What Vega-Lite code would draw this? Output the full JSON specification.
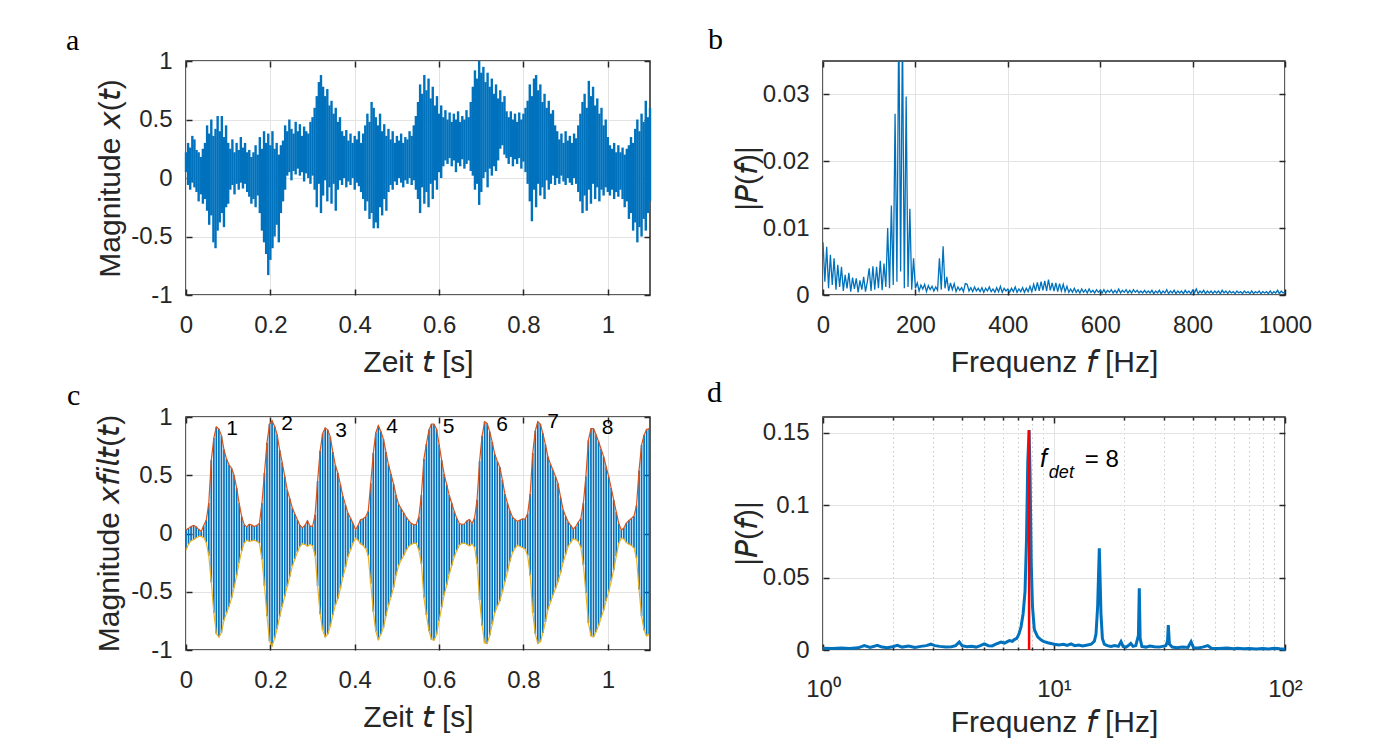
{
"$schema": "https://vega.github.io/schema/vega-lite/v6.json",
"padding": {"left": 65, "top": 24, "right": 5, "bottom": 5},
"background": "white",
"bounds": "flush",
"columns": 2,
"spacing": {"row": 122, "column": 173},
"datasets": {
"sa": [
{"t":0,"h":0.22,"l":0.05},{"t":0.005,"h":0.30,"l":-0.06},{"t":0.01,"h":0.26,"l":-0.10},{"t":0.015,"h":0.36,"l":-0.04},{"t":0.02,"h":0.33,"l":-0.08},{"t":0.025,"h":0.24,"l":-0.12},{"t":0.03,"h":0.22,"l":-0.20},{"t":0.035,"h":0.18,"l":-0.14},{"t":0.04,"h":0.25,"l":-0.22},{"t":0.045,"h":0.30,"l":-0.18},
{"t":0.05,"h":0.45,"l":-0.28},{"t":0.055,"h":0.38,"l":-0.40},{"t":0.06,"h":0.50,"l":-0.32},{"t":0.065,"h":0.36,"l":-0.55},{"t":0.07,"h":0.42,"l":-0.60},{"t":0.075,"h":0.53,"l":-0.45},{"t":0.08,"h":0.40,"l":-0.38},{"t":0.085,"h":0.53,"l":-0.30},{"t":0.09,"h":0.35,"l":-0.42},{"t":0.095,"h":0.45,"l":-0.25},
{"t":0.1,"h":0.30,"l":-0.22},{"t":0.105,"h":0.25,"l":-0.10},{"t":0.11,"h":0.33,"l":-0.06},{"t":0.115,"h":0.22,"l":-0.14},{"t":0.12,"h":0.30,"l":-0.05},{"t":0.125,"h":0.24,"l":-0.10},{"t":0.13,"h":0.35,"l":-0.04},{"t":0.135,"h":0.26,"l":-0.09},{"t":0.14,"h":0.30,"l":-0.05},{"t":0.145,"h":0.22,"l":-0.12},
{"t":0.15,"h":0.24,"l":-0.16},{"t":0.155,"h":0.18,"l":-0.22},{"t":0.16,"h":0.22,"l":-0.18},{"t":0.165,"h":0.28,"l":-0.25},{"t":0.17,"h":0.20,"l":-0.15},{"t":0.175,"h":0.35,"l":-0.30},{"t":0.18,"h":0.25,"l":-0.45},{"t":0.185,"h":0.40,"l":-0.55},{"t":0.19,"h":0.30,"l":-0.65},{"t":0.195,"h":0.38,"l":-0.83},
{"t":0.2,"h":0.28,"l":-0.70},{"t":0.205,"h":0.40,"l":-0.60},{"t":0.21,"h":0.25,"l":-0.50},{"t":0.215,"h":0.30,"l":-0.40},{"t":0.22,"h":0.20,"l":-0.55},{"t":0.225,"h":0.28,"l":-0.30},{"t":0.23,"h":0.32,"l":-0.20},{"t":0.235,"h":0.45,"l":-0.10},{"t":0.24,"h":0.40,"l":0.02},{"t":0.245,"h":0.50,"l":0.05},
{"t":0.25,"h":0.42,"l":-0.02},{"t":0.255,"h":0.38,"l":0.06},{"t":0.26,"h":0.48,"l":0.03},{"t":0.265,"h":0.40,"l":0.08},{"t":0.27,"h":0.46,"l":0.02},{"t":0.275,"h":0.36,"l":0.05},{"t":0.28,"h":0.44,"l":-0.03},{"t":0.285,"h":0.40,"l":0.04},{"t":0.29,"h":0.38,"l":0.00},{"t":0.295,"h":0.48,"l":-0.05},
{"t":0.3,"h":0.52,"l":0.02},{"t":0.305,"h":0.60,"l":-0.10},{"t":0.31,"h":0.70,"l":-0.25},{"t":0.315,"h":0.82,"l":-0.05},{"t":0.32,"h":0.88,"l":-0.30},{"t":0.325,"h":0.78,"l":-0.15},{"t":0.33,"h":0.70,"l":-0.02},{"t":0.335,"h":0.76,"l":-0.20},{"t":0.34,"h":0.62,"l":-0.08},{"t":0.345,"h":0.66,"l":-0.22},
{"t":0.35,"h":0.55,"l":-0.05},{"t":0.355,"h":0.60,"l":-0.28},{"t":0.36,"h":0.48,"l":-0.10},{"t":0.365,"h":0.52,"l":-0.02},{"t":0.37,"h":0.40,"l":-0.06},{"t":0.375,"h":0.36,"l":0.00},{"t":0.38,"h":0.41,"l":-0.08},{"t":0.385,"h":0.32,"l":-0.03},{"t":0.39,"h":0.38,"l":-0.06},{"t":0.395,"h":0.30,"l":0.00},
{"t":0.4,"h":0.36,"l":-0.10},{"t":0.405,"h":0.33,"l":-0.04},{"t":0.41,"h":0.40,"l":-0.07},{"t":0.415,"h":0.30,"l":-0.12},{"t":0.42,"h":0.38,"l":-0.18},{"t":0.425,"h":0.45,"l":-0.28},{"t":0.43,"h":0.55,"l":-0.20},{"t":0.435,"h":0.48,"l":-0.35},{"t":0.44,"h":0.65,"l":-0.30},{"t":0.445,"h":0.60,"l":-0.43},
{"t":0.45,"h":0.52,"l":-0.38},{"t":0.455,"h":0.45,"l":-0.43},{"t":0.46,"h":0.55,"l":-0.25},{"t":0.465,"h":0.40,"l":-0.32},{"t":0.47,"h":0.46,"l":-0.18},{"t":0.475,"h":0.36,"l":-0.28},{"t":0.48,"h":0.42,"l":-0.12},{"t":0.485,"h":0.33,"l":-0.06},{"t":0.49,"h":0.40,"l":-0.10},{"t":0.495,"h":0.30,"l":-0.03},
{"t":0.5,"h":0.36,"l":-0.06},{"t":0.505,"h":0.32,"l":0.00},{"t":0.51,"h":0.38,"l":-0.04},{"t":0.515,"h":0.30,"l":-0.08},{"t":0.52,"h":0.35,"l":-0.02},{"t":0.525,"h":0.33,"l":-0.05},{"t":0.53,"h":0.40,"l":0.00},{"t":0.535,"h":0.36,"l":-0.06},{"t":0.54,"h":0.45,"l":-0.02},{"t":0.545,"h":0.53,"l":-0.10},
{"t":0.55,"h":0.65,"l":-0.18},{"t":0.555,"h":0.80,"l":-0.30},{"t":0.56,"h":0.72,"l":-0.08},{"t":0.565,"h":0.88,"l":-0.22},{"t":0.57,"h":0.75,"l":-0.12},{"t":0.575,"h":0.85,"l":-0.25},{"t":0.58,"h":0.68,"l":-0.05},{"t":0.585,"h":0.78,"l":-0.18},{"t":0.59,"h":0.62,"l":-0.02},{"t":0.595,"h":0.70,"l":-0.10},
{"t":0.6,"h":0.55,"l":0.05},{"t":0.605,"h":0.62,"l":0.00},{"t":0.61,"h":0.52,"l":0.10},{"t":0.615,"h":0.58,"l":0.15},{"t":0.62,"h":0.50,"l":0.12},{"t":0.625,"h":0.56,"l":0.17},{"t":0.63,"h":0.48,"l":0.10},{"t":0.635,"h":0.55,"l":0.15},{"t":0.64,"h":0.50,"l":0.05},{"t":0.645,"h":0.57,"l":0.13},
{"t":0.65,"h":0.48,"l":0.10},{"t":0.655,"h":0.53,"l":0.16},{"t":0.66,"h":0.50,"l":0.08},{"t":0.665,"h":0.58,"l":0.12},{"t":0.67,"h":0.52,"l":0.15},{"t":0.675,"h":0.65,"l":0.06},{"t":0.68,"h":0.78,"l":0.02},{"t":0.685,"h":0.92,"l":-0.10},{"t":0.69,"h":0.85,"l":-0.05},{"t":0.695,"h":1.00,"l":-0.23},
{"t":0.7,"h":0.90,"l":-0.12},{"t":0.705,"h":0.95,"l":0.00},{"t":0.71,"h":0.82,"l":0.05},{"t":0.715,"h":0.90,"l":-0.08},{"t":0.72,"h":0.78,"l":0.08},{"t":0.725,"h":0.85,"l":0.02},{"t":0.73,"h":0.72,"l":0.10},{"t":0.735,"h":0.80,"l":0.06},{"t":0.74,"h":0.68,"l":0.15},{"t":0.745,"h":0.75,"l":0.25},
{"t":0.75,"h":0.65,"l":0.28},{"t":0.755,"h":0.70,"l":0.20},{"t":0.76,"h":0.57,"l":0.17},{"t":0.765,"h":0.52,"l":0.12},{"t":0.77,"h":0.57,"l":0.18},{"t":0.775,"h":0.50,"l":0.10},{"t":0.78,"h":0.55,"l":0.16},{"t":0.785,"h":0.48,"l":0.12},{"t":0.79,"h":0.56,"l":0.17},{"t":0.795,"h":0.50,"l":0.08},
{"t":0.8,"h":0.55,"l":0.14},{"t":0.805,"h":0.60,"l":0.05},{"t":0.81,"h":0.66,"l":-0.05},{"t":0.815,"h":0.80,"l":-0.20},{"t":0.82,"h":0.70,"l":-0.37},{"t":0.825,"h":0.85,"l":-0.10},{"t":0.83,"h":0.88,"l":-0.25},{"t":0.835,"h":0.75,"l":-0.05},{"t":0.84,"h":0.80,"l":-0.15},{"t":0.845,"h":0.65,"l":-0.08},
{"t":0.85,"h":0.72,"l":-0.18},{"t":0.855,"h":0.60,"l":-0.02},{"t":0.86,"h":0.66,"l":-0.10},{"t":0.865,"h":0.55,"l":-0.05},{"t":0.87,"h":0.58,"l":0.02},{"t":0.875,"h":0.45,"l":-0.06},{"t":0.88,"h":0.40,"l":0.00},{"t":0.885,"h":0.33,"l":-0.05},{"t":0.89,"h":0.38,"l":0.02},{"t":0.895,"h":0.30,"l":-0.03},
{"t":0.9,"h":0.40,"l":-0.06},{"t":0.905,"h":0.32,"l":0.00},{"t":0.91,"h":0.36,"l":-0.04},{"t":0.915,"h":0.30,"l":-0.06},{"t":0.92,"h":0.38,"l":0.00},{"t":0.925,"h":0.34,"l":-0.05},{"t":0.93,"h":0.45,"l":-0.12},{"t":0.935,"h":0.55,"l":-0.20},{"t":0.94,"h":0.65,"l":-0.30},{"t":0.945,"h":0.72,"l":-0.15},
{"t":0.95,"h":0.60,"l":-0.28},{"t":0.955,"h":0.83,"l":-0.10},{"t":0.96,"h":0.70,"l":-0.22},{"t":0.965,"h":0.78,"l":-0.05},{"t":0.97,"h":0.62,"l":-0.18},{"t":0.975,"h":0.68,"l":-0.08},{"t":0.98,"h":0.55,"l":-0.20},{"t":0.985,"h":0.60,"l":-0.10},{"t":0.99,"h":0.45,"l":-0.15},{"t":0.995,"h":0.50,"l":-0.08},
{"t":1,"h":0.35,"l":-0.12},{"t":1.005,"h":0.28,"l":-0.15},{"t":1.01,"h":0.25,"l":-0.10},{"t":1.015,"h":0.30,"l":-0.18},{"t":1.02,"h":0.22,"l":-0.12},{"t":1.025,"h":0.28,"l":-0.16},{"t":1.03,"h":0.22,"l":-0.10},{"t":1.035,"h":0.26,"l":-0.18},{"t":1.04,"h":0.20,"l":-0.25},{"t":1.045,"h":0.25,"l":-0.20},
{"t":1.05,"h":0.28,"l":-0.35},{"t":1.055,"h":0.35,"l":-0.30},{"t":1.06,"h":0.30,"l":-0.45},{"t":1.065,"h":0.42,"l":-0.38},{"t":1.07,"h":0.50,"l":-0.55},{"t":1.075,"h":0.40,"l":-0.42},{"t":1.08,"h":0.55,"l":-0.50},{"t":1.085,"h":0.48,"l":-0.35},{"t":1.09,"h":0.66,"l":-0.45},{"t":1.095,"h":0.52,"l":-0.30},
{"t":1.1,"h":0.60,"l":-0.20}
],
"sb": [
{"f":0,"p":0.0079},{"f":4,"p":0.0020},{"f":8,"p":0.0072},{"f":12,"p":0.0010},{"f":16,"p":0.0060},{"f":20,"p":0.0015},{"f":24,"p":0.0055},{"f":28,"p":0.0008},{"f":32,"p":0.0045},{"f":36,"p":0.0012},
{"f":40,"p":0.0042},{"f":44,"p":0.0006},{"f":48,"p":0.0030},{"f":52,"p":0.0010},{"f":56,"p":0.0033},{"f":60,"p":0.0005},{"f":64,"p":0.0026},{"f":68,"p":0.0009},{"f":72,"p":0.0025},{"f":76,"p":0.0004},
{"f":80,"p":0.0022},{"f":84,"p":0.0008},{"f":88,"p":0.0027},{"f":92,"p":0.0005},{"f":96,"p":0.0020},{"f":100,"p":0.0040},{"f":104,"p":0.0006},{"f":108,"p":0.0043},{"f":112,"p":0.0008},{"f":116,"p":0.0042},
{"f":120,"p":0.0010},{"f":124,"p":0.0051},{"f":128,"p":0.0007},{"f":132,"p":0.0047},{"f":136,"p":0.0012},{"f":140,"p":0.0100},{"f":144,"p":0.0010},{"f":148,"p":0.0134},{"f":152,"p":0.0015},{"f":156,"p":0.0271},
{"f":160,"p":0.0020},{"f":164,"p":0.0420},{"f":168,"p":0.0035},{"f":172,"p":0.0400},{"f":176,"p":0.0010},{"f":180,"p":0.0297},{"f":184,"p":0.0012},{"f":188,"p":0.0129},{"f":192,"p":0.0008},{"f":196,"p":0.0055},
{"f":200,"p":0.0010},{"f":204,"p":0.0018},{"f":208,"p":0.0006},{"f":212,"p":0.0015},{"f":216,"p":0.0009},{"f":220,"p":0.0016},{"f":224,"p":0.0005},{"f":228,"p":0.0014},{"f":232,"p":0.0008},{"f":236,"p":0.0013},
{"f":240,"p":0.0006},{"f":244,"p":0.0012},{"f":248,"p":0.0007},{"f":252,"p":0.0055},{"f":256,"p":0.0008},{"f":260,"p":0.0073},{"f":264,"p":0.0010},{"f":268,"p":0.0027},{"f":272,"p":0.0006},{"f":276,"p":0.0018},
{"f":280,"p":0.0008},{"f":284,"p":0.0017},{"f":288,"p":0.0005},{"f":292,"p":0.0012},{"f":296,"p":0.0007},{"f":300,"p":0.0011},{"f":304,"p":0.0005},{"f":308,"p":0.0017},{"f":312,"p":0.0016},{"f":316,"p":0.0006},
{"f":320,"p":0.0011},{"f":324,"p":0.0005},{"f":328,"p":0.0012},{"f":332,"p":0.0006},{"f":336,"p":0.0010},{"f":340,"p":0.0005},{"f":344,"p":0.0011},{"f":348,"p":0.0004},{"f":352,"p":0.0010},{"f":356,"p":0.0006},
{"f":360,"p":0.0012},{"f":364,"p":0.0005},{"f":368,"p":0.0009},{"f":372,"p":0.0004},{"f":376,"p":0.0011},{"f":380,"p":0.0005},{"f":384,"p":0.0013},{"f":388,"p":0.0004},{"f":392,"p":0.0010},{"f":396,"p":0.0006},
{"f":400,"p":0.0009},{"f":404,"p":0.0004},{"f":408,"p":0.0010},{"f":412,"p":0.0005},{"f":416,"p":0.0012},{"f":420,"p":0.0004},{"f":424,"p":0.0009},{"f":428,"p":0.0005},{"f":432,"p":0.0011},{"f":436,"p":0.0004},
{"f":440,"p":0.0010},{"f":444,"p":0.0005},{"f":448,"p":0.0013},{"f":452,"p":0.0005},{"f":456,"p":0.0016},{"f":460,"p":0.0006},{"f":464,"p":0.0019},{"f":468,"p":0.0006},{"f":472,"p":0.0020},{"f":476,"p":0.0007},
{"f":480,"p":0.0021},{"f":484,"p":0.0006},{"f":488,"p":0.0023},{"f":492,"p":0.0007},{"f":496,"p":0.0018},{"f":500,"p":0.0006},{"f":504,"p":0.0018},{"f":508,"p":0.0005},{"f":512,"p":0.0017},{"f":516,"p":0.0006},
{"f":520,"p":0.0016},{"f":524,"p":0.0005},{"f":528,"p":0.0013},{"f":532,"p":0.0004},{"f":536,"p":0.0009},{"f":540,"p":0.0004},{"f":544,"p":0.0010},{"f":548,"p":0.0004},{"f":552,"p":0.0008},{"f":556,"p":0.0003},
{"f":560,"p":0.0009},{"f":564,"p":0.0004},{"f":568,"p":0.0008},{"f":572,"p":0.0003},{"f":576,"p":0.0009},{"f":580,"p":0.0004},{"f":584,"p":0.0007},{"f":588,"p":0.0003},{"f":592,"p":0.0008},{"f":596,"p":0.0004},
{"f":600,"p":0.0007},{"f":604,"p":0.0003},{"f":608,"p":0.0008},{"f":612,"p":0.0003},{"f":616,"p":0.0007},{"f":620,"p":0.0004},{"f":624,"p":0.0008},{"f":628,"p":0.0003},{"f":632,"p":0.0007},{"f":636,"p":0.0003},
{"f":640,"p":0.0009},{"f":644,"p":0.0003},{"f":648,"p":0.0007},{"f":652,"p":0.0004},{"f":656,"p":0.0008},{"f":660,"p":0.0003},{"f":664,"p":0.0007},{"f":668,"p":0.0003},{"f":672,"p":0.0008},{"f":676,"p":0.0004},
{"f":680,"p":0.0007},{"f":684,"p":0.0003},{"f":688,"p":0.0006},{"f":692,"p":0.0003},{"f":696,"p":0.0007},{"f":700,"p":0.0003},{"f":704,"p":0.0006},{"f":708,"p":0.0003},{"f":712,"p":0.0007},{"f":716,"p":0.0002},
{"f":720,"p":0.0006},{"f":724,"p":0.0003},{"f":728,"p":0.0007},{"f":732,"p":0.0002},{"f":736,"p":0.0006},{"f":740,"p":0.0003},{"f":744,"p":0.0008},{"f":748,"p":0.0002},{"f":752,"p":0.0006},{"f":756,"p":0.0003},
{"f":760,"p":0.0007},{"f":764,"p":0.0002},{"f":768,"p":0.0006},{"f":772,"p":0.0003},{"f":776,"p":0.0006},{"f":780,"p":0.0002},{"f":784,"p":0.0007},{"f":788,"p":0.0003},{"f":792,"p":0.0006},{"f":796,"p":0.0002},
{"f":800,"p":0.0007},{"f":804,"p":0.0003},{"f":808,"p":0.0009},{"f":812,"p":0.0002},{"f":816,"p":0.0006},{"f":820,"p":0.0003},{"f":824,"p":0.0007},{"f":828,"p":0.0002},{"f":832,"p":0.0006},{"f":836,"p":0.0003},
{"f":840,"p":0.0006},{"f":844,"p":0.0002},{"f":848,"p":0.0006},{"f":852,"p":0.0003},{"f":856,"p":0.0006},{"f":860,"p":0.0002},{"f":864,"p":0.0007},{"f":868,"p":0.0003},{"f":872,"p":0.0006},{"f":876,"p":0.0002},
{"f":880,"p":0.0006},{"f":884,"p":0.0003},{"f":888,"p":0.0005},{"f":892,"p":0.0002},{"f":896,"p":0.0006},{"f":900,"p":0.0003},{"f":904,"p":0.0005},{"f":908,"p":0.0002},{"f":912,"p":0.0006},{"f":916,"p":0.0003},
{"f":920,"p":0.0005},{"f":924,"p":0.0002},{"f":928,"p":0.0006},{"f":932,"p":0.0002},{"f":936,"p":0.0005},{"f":940,"p":0.0003},{"f":944,"p":0.0006},{"f":948,"p":0.0002},{"f":952,"p":0.0005},{"f":956,"p":0.0003},
{"f":960,"p":0.0005},{"f":964,"p":0.0002},{"f":968,"p":0.0006},{"f":972,"p":0.0002},{"f":976,"p":0.0005},{"f":980,"p":0.0003},{"f":984,"p":0.0007},{"f":988,"p":0.0002},{"f":992,"p":0.0006},{"f":996,"p":0.0003},
{"f":1000,"p":0.0004}
],
"sc": [
{"t":0,"u":0.03,"l":-0.142},{"t":0.006,"u":0.044,"l":-0.092},{"t":0.012,"u":0.06,"l":-0.064},{"t":0.018,"u":0.07,"l":-0.053},{"t":0.024,"u":0.058,"l":-0.038},{"t":0.03,"u":0.036,"l":-0.025},{"t":0.036,"u":0.017,"l":-0.025},{"t":0.042,"u":0.068,"l":-0.037},{"t":0.048,"u":0.114,"l":-0.076},{"t":0.054,"u":0.26,"l":-0.19},
{"t":0.06,"u":0.63,"l":-0.42},{"t":0.066,"u":0.82,"l":-0.68},{"t":0.072,"u":0.915,"l":-0.86},{"t":0.078,"u":0.897,"l":-0.89},{"t":0.084,"u":0.84,"l":-0.852},{"t":0.09,"u":0.72,"l":-0.745},{"t":0.096,"u":0.64,"l":-0.683},{"t":0.102,"u":0.59,"l":-0.628},{"t":0.108,"u":0.56,"l":-0.555},{"t":0.114,"u":0.5,"l":-0.466},
{"t":0.12,"u":0.39,"l":-0.36},{"t":0.126,"u":0.26,"l":-0.25},{"t":0.132,"u":0.145,"l":-0.15},{"t":0.138,"u":0.075,"l":-0.083},{"t":0.144,"u":0.056,"l":-0.058},{"t":0.15,"u":0.08,"l":-0.068},{"t":0.156,"u":0.072,"l":-0.064},{"t":0.162,"u":0.06,"l":-0.057},{"t":0.168,"u":0.071,"l":-0.068},{"t":0.174,"u":0.085,"l":-0.083},
{"t":0.18,"u":0.26,"l":-0.22},{"t":0.186,"u":0.52,"l":-0.45},{"t":0.192,"u":0.78,"l":-0.71},{"t":0.198,"u":0.94,"l":-0.925},{"t":0.204,"u":0.968,"l":-0.968},{"t":0.21,"u":0.92,"l":-0.9},{"t":0.216,"u":0.85,"l":-0.82},{"t":0.222,"u":0.717,"l":-0.714},{"t":0.228,"u":0.61,"l":-0.63},{"t":0.234,"u":0.49,"l":-0.54},
{"t":0.24,"u":0.375,"l":-0.455},{"t":0.246,"u":0.3,"l":-0.37},{"t":0.252,"u":0.22,"l":-0.28},{"t":0.258,"u":0.167,"l":-0.22},{"t":0.264,"u":0.118,"l":-0.16},{"t":0.27,"u":0.072,"l":-0.112},{"t":0.276,"u":0.049,"l":-0.088},{"t":0.282,"u":0.072,"l":-0.095},{"t":0.288,"u":0.11,"l":-0.11},{"t":0.294,"u":0.065,"l":-0.095},
{"t":0.3,"u":0.06,"l":-0.105},{"t":0.306,"u":0.16,"l":-0.19},{"t":0.312,"u":0.45,"l":-0.45},{"t":0.318,"u":0.71,"l":-0.69},{"t":0.324,"u":0.858,"l":-0.83},{"t":0.33,"u":0.907,"l":-0.89},{"t":0.336,"u":0.89,"l":-0.864},{"t":0.342,"u":0.83,"l":-0.8},{"t":0.348,"u":0.7,"l":-0.7},{"t":0.354,"u":0.586,"l":-0.615},
{"t":0.36,"u":0.52,"l":-0.56},{"t":0.366,"u":0.42,"l":-0.47},{"t":0.372,"u":0.32,"l":-0.375},{"t":0.378,"u":0.246,"l":-0.29},{"t":0.384,"u":0.175,"l":-0.2},{"t":0.39,"u":0.13,"l":-0.14},{"t":0.396,"u":0.087,"l":-0.084},{"t":0.402,"u":0.032,"l":-0.04},{"t":0.408,"u":0.07,"l":-0.057},{"t":0.414,"u":0.119,"l":-0.09},
{"t":0.42,"u":0.126,"l":-0.104},{"t":0.426,"u":0.143,"l":-0.13},{"t":0.432,"u":0.19,"l":-0.19},{"t":0.438,"u":0.43,"l":-0.43},{"t":0.444,"u":0.69,"l":-0.67},{"t":0.45,"u":0.865,"l":-0.84},{"t":0.456,"u":0.925,"l":-0.91},{"t":0.462,"u":0.875,"l":-0.865},{"t":0.468,"u":0.81,"l":-0.81},{"t":0.474,"u":0.7,"l":-0.71},
{"t":0.48,"u":0.59,"l":-0.615},{"t":0.486,"u":0.51,"l":-0.545},{"t":0.492,"u":0.425,"l":-0.465},{"t":0.498,"u":0.33,"l":-0.36},{"t":0.504,"u":0.25,"l":-0.275},{"t":0.51,"u":0.215,"l":-0.23},{"t":0.516,"u":0.178,"l":-0.19},{"t":0.522,"u":0.14,"l":-0.145},{"t":0.528,"u":0.11,"l":-0.11},{"t":0.534,"u":0.087,"l":-0.095},
{"t":0.54,"u":0.074,"l":-0.084},{"t":0.546,"u":0.079,"l":-0.084},{"t":0.552,"u":0.145,"l":-0.145},{"t":0.558,"u":0.33,"l":-0.26},{"t":0.564,"u":0.64,"l":-0.55},{"t":0.57,"u":0.77,"l":-0.7},{"t":0.576,"u":0.89,"l":-0.837},{"t":0.582,"u":0.94,"l":-0.91},{"t":0.588,"u":0.94,"l":-0.916},{"t":0.594,"u":0.895,"l":-0.866},
{"t":0.6,"u":0.765,"l":-0.75},{"t":0.606,"u":0.63,"l":-0.634},{"t":0.612,"u":0.51,"l":-0.53},{"t":0.618,"u":0.42,"l":-0.44},{"t":0.624,"u":0.33,"l":-0.35},{"t":0.63,"u":0.26,"l":-0.275},{"t":0.636,"u":0.19,"l":-0.2},{"t":0.642,"u":0.13,"l":-0.145},{"t":0.648,"u":0.085,"l":-0.1},{"t":0.654,"u":0.078,"l":-0.084},
{"t":0.66,"u":0.081,"l":-0.084},{"t":0.666,"u":0.11,"l":-0.094},{"t":0.672,"u":0.12,"l":-0.108},{"t":0.678,"u":0.086,"l":-0.09},{"t":0.684,"u":0.13,"l":-0.117},{"t":0.69,"u":0.29,"l":-0.26},{"t":0.696,"u":0.62,"l":-0.57},{"t":0.702,"u":0.84,"l":-0.79},{"t":0.708,"u":0.96,"l":-0.94},{"t":0.714,"u":0.945,"l":-0.945},
{"t":0.72,"u":0.875,"l":-0.875},{"t":0.726,"u":0.785,"l":-0.78},{"t":0.732,"u":0.68,"l":-0.68},{"t":0.738,"u":0.62,"l":-0.625},{"t":0.744,"u":0.57,"l":-0.58},{"t":0.75,"u":0.46,"l":-0.5},{"t":0.756,"u":0.34,"l":-0.415},{"t":0.762,"u":0.26,"l":-0.33},{"t":0.768,"u":0.195,"l":-0.24},{"t":0.774,"u":0.14,"l":-0.163},
{"t":0.78,"u":0.12,"l":-0.127},{"t":0.786,"u":0.104,"l":-0.101},{"t":0.792,"u":0.115,"l":-0.112},{"t":0.798,"u":0.126,"l":-0.123},{"t":0.804,"u":0.124,"l":-0.134},{"t":0.81,"u":0.17,"l":-0.19},{"t":0.816,"u":0.34,"l":-0.36},{"t":0.822,"u":0.69,"l":-0.68},{"t":0.828,"u":0.88,"l":-0.86},{"t":0.834,"u":0.96,"l":-0.945},
{"t":0.84,"u":0.94,"l":-0.93},{"t":0.846,"u":0.86,"l":-0.855},{"t":0.852,"u":0.765,"l":-0.76},{"t":0.858,"u":0.66,"l":-0.655},{"t":0.864,"u":0.595,"l":-0.588},{"t":0.87,"u":0.545,"l":-0.53},{"t":0.876,"u":0.488,"l":-0.472},{"t":0.882,"u":0.43,"l":-0.414},{"t":0.888,"u":0.31,"l":-0.335},{"t":0.894,"u":0.205,"l":-0.25},
{"t":0.9,"u":0.148,"l":-0.178},{"t":0.906,"u":0.1,"l":-0.112},{"t":0.912,"u":0.07,"l":-0.076},{"t":0.918,"u":0.037,"l":-0.047},{"t":0.924,"u":0.06,"l":-0.053},{"t":0.93,"u":0.097,"l":-0.068},{"t":0.936,"u":0.13,"l":-0.12},{"t":0.942,"u":0.26,"l":-0.27},{"t":0.948,"u":0.49,"l":-0.51},{"t":0.954,"u":0.8,"l":-0.77},
{"t":0.96,"u":0.9,"l":-0.88},{"t":0.966,"u":0.9,"l":-0.888},{"t":0.972,"u":0.85,"l":-0.845},{"t":0.978,"u":0.79,"l":-0.79},{"t":0.984,"u":0.725,"l":-0.725},{"t":0.99,"u":0.66,"l":-0.66},{"t":0.996,"u":0.575,"l":-0.58},{"t":1.002,"u":0.488,"l":-0.5},{"t":1.008,"u":0.39,"l":-0.41},{"t":1.014,"u":0.288,"l":-0.315},
{"t":1.02,"u":0.185,"l":-0.195},{"t":1.026,"u":0.086,"l":-0.084},{"t":1.032,"u":0.03,"l":-0.042},{"t":1.038,"u":0.047,"l":-0.047},{"t":1.044,"u":0.09,"l":-0.077},{"t":1.05,"u":0.113,"l":-0.093},{"t":1.056,"u":0.13,"l":-0.104},{"t":1.062,"u":0.15,"l":-0.125},{"t":1.068,"u":0.24,"l":-0.21},{"t":1.074,"u":0.54,"l":-0.48},
{"t":1.08,"u":0.76,"l":-0.71},{"t":1.086,"u":0.845,"l":-0.83},{"t":1.092,"u":0.893,"l":-0.88},{"t":1.098,"u":0.9,"l":-0.866}
],
"sd": [
{"f":1,"p":0.0012},{"f":1.1,"p":0.0010},{"f":1.2,"p":0.0013},{"f":1.3,"p":0.0011},{"f":1.42,"p":0.0015},{"f":1.51,"p":0.0030},{"f":1.6,"p":0.0018},{"f":1.72,"p":0.0032},{"f":1.8,"p":0.0020},{"f":1.9,"p":0.0015},
{"f":2,"p":0.0022},{"f":2.1,"p":0.0032},{"f":2.2,"p":0.0020},{"f":2.35,"p":0.0028},{"f":2.5,"p":0.0018},{"f":2.65,"p":0.0025},{"f":2.8,"p":0.0030},{"f":2.93,"p":0.0040},{"f":3.05,"p":0.0030},{"f":3.2,"p":0.0025},
{"f":3.4,"p":0.0020},{"f":3.6,"p":0.0022},{"f":3.75,"p":0.0030},{"f":3.89,"p":0.0055},{"f":4,"p":0.0030},{"f":4.2,"p":0.0022},{"f":4.4,"p":0.0025},{"f":4.6,"p":0.0020},{"f":4.8,"p":0.0030},{"f":4.99,"p":0.0042},
{"f":5.2,"p":0.0030},{"f":5.4,"p":0.0028},{"f":5.6,"p":0.0040},{"f":5.9,"p":0.0055},{"f":6.1,"p":0.0048},{"f":6.41,"p":0.0065},{"f":6.6,"p":0.0060},{"f":6.73,"p":0.0072},{"f":6.9,"p":0.0080},{"f":7.05,"p":0.0110},
{"f":7.2,"p":0.0160},{"f":7.35,"p":0.0250},{"f":7.49,"p":0.0400},{"f":7.6,"p":0.0750},{"f":7.7,"p":0.1300},{"f":7.8,"p":0.1517},{"f":7.88,"p":0.1200},{"f":7.97,"p":0.0600},{"f":8.07,"p":0.0300},{"f":8.22,"p":0.0140},
{"f":8.5,"p":0.0090},{"f":8.78,"p":0.0070},{"f":9,"p":0.0060},{"f":9.4,"p":0.0050},{"f":9.7,"p":0.0045},{"f":10.03,"p":0.0040},{"f":10.5,"p":0.0035},{"f":11,"p":0.0040},{"f":11.4,"p":0.0032},{"f":11.85,"p":0.0042},
{"f":12.3,"p":0.0030},{"f":12.8,"p":0.0035},{"f":13.3,"p":0.0028},{"f":13.99,"p":0.0035},{"f":14.5,"p":0.0040},{"f":14.95,"p":0.0060},{"f":15.2,"p":0.0110},{"f":15.45,"p":0.0300},{"f":15.71,"p":0.0701},{"f":15.97,"p":0.0250},
{"f":16.2,"p":0.0080},{"f":16.51,"p":0.0040},{"f":17,"p":0.0030},{"f":17.66,"p":0.0025},{"f":18.3,"p":0.0030},{"f":19,"p":0.0025},{"f":19.5,"p":0.0058},{"f":19.9,"p":0.0025},{"f":20.5,"p":0.0020},{"f":21,"p":0.0030},
{"f":21.5,"p":0.0045},{"f":22,"p":0.0025},{"f":22.6,"p":0.0030},{"f":23.2,"p":0.0100},{"f":23.4,"p":0.0425},{"f":23.6,"p":0.0080},{"f":24,"p":0.0025},{"f":25,"p":0.0020},{"f":26,"p":0.0028},{"f":27.2,"p":0.0022},
{"f":28.5,"p":0.0020},{"f":29.5,"p":0.0025},{"f":30.5,"p":0.0030},{"f":31,"p":0.0060},{"f":31.25,"p":0.0172},{"f":31.6,"p":0.0040},{"f":32.5,"p":0.0020},{"f":34,"p":0.0015},{"f":36,"p":0.0020},{"f":38,"p":0.0018},
{"f":39.2,"p":0.0057},{"f":40.2,"p":0.0015},{"f":42,"p":0.0014},{"f":44,"p":0.0020},{"f":46.3,"p":0.0030},{"f":48,"p":0.0012},{"f":52,"p":0.0010},{"f":56,"p":0.0014},{"f":60,"p":0.0008},{"f":62.4,"p":0.0012},
{"f":66,"p":0.0008},{"f":70,"p":0.0010},{"f":75,"p":0.0007},{"f":80,"p":0.0010},{"f":85,"p":0.0007},{"f":90,"p":0.0012},{"f":95,"p":0.0008},{"f":100,"p":0.0005}
],
"lc": [
{"t":0.109,"v":0.845,"n":"1"},{"t":0.2395,"v":0.888,"n":"2"},{"t":0.3675,"v":0.831,"n":"3"},{"t":0.4884,"v":0.86,"n":"4"},{"t":0.6228,"v":0.86,"n":"5"},{"t":0.7492,"v":0.882,"n":"6"},{"t":0.8701,"v":0.903,"n":"7"},{"t":0.9993,"v":0.854,"n":"8"}
]
},
"concat": [
{
"width": 464, "height": 234,
"title": {"text": "a", "dx": -120, "offset": -31, "baseline": "alphabetic"},
"layer": [
{"data": {"name": "sa"}, "mark": {"type": "rule", "color": "#0072BD", "strokeWidth": 2.4},
 "encoding": {
  "x": {"field": "t", "type": "quantitative", "scale": {"domain": [0, 1.1], "nice": false, "zero": false},
        "axis": {"orient": "bottom", "values": [0,0.2,0.4,0.6,0.8,1], "labelExpr": "'' + datum.value", "title": "Zeit  \uD835\uDE35 [s]", "titleX": 232, "titleY": 67, "titleBaseline": "middle", "titleAlign": "center"}},
  "y": {"field": "l", "type": "quantitative", "scale": {"domain": [-1, 1], "nice": false, "zero": false},
        "axis": {"orient": "left", "values": [-1,-0.5,0,0.5,1], "labelExpr": "'' + datum.value", "title": "Magnitude  \uD835\uDE39(\uD835\uDE35)", "titleX": -76, "titleY": 117, "titleBaseline": "middle", "titleAlign": "center", "titleAngle": 270}},
  "y2": {"field": "h"}
 }},
{"data": {"values": [{"t": 0, "v": 0}]}, "mark": {"type": "point", "opacity": 0},
 "encoding": {
  "x": {"field": "t", "type": "quantitative", "scale": {"domain": [0, 1.1], "nice": false, "zero": false}, "axis": {"orient": "top", "values": [0,0.2,0.4,0.6,0.8,1], "labels": false, "grid": false, "title": null}},
  "y": {"field": "v", "type": "quantitative", "scale": {"domain": [-1, 1], "nice": false, "zero": false}, "axis": {"orient": "right", "values": [-1,-0.5,0,0.5,1], "labels": false, "grid": false, "title": null}}
 }}
]
},
{
"width": 462, "height": 234,
"title": {"text": "b", "dx": -115, "offset": -19, "baseline": "alphabetic"},
"layer": [
{"data": {"name": "sb"}, "mark": {"type": "line", "color": "#0072BD", "strokeWidth": 1.3, "clip": true},
 "encoding": {
  "x": {"field": "f", "type": "quantitative", "scale": {"domain": [0, 1000], "nice": false, "zero": false},
        "axis": {"orient": "bottom", "values": [0,200,400,600,800,1000], "labelExpr": "'' + datum.value", "title": "Frequenz  \uD835\uDE27 [Hz]", "titleX": 231, "titleY": 67, "titleBaseline": "middle", "titleAlign": "center"}},
  "y": {"field": "p", "type": "quantitative", "scale": {"domain": [0, 0.035], "nice": false, "zero": false},
        "axis": {"orient": "left", "values": [0,0.01,0.02,0.03], "labelExpr": "'' + datum.value", "title": "|\uD835\uDE17(\uD835\uDE27)|", "titleX": -76, "titleY": 117, "titleBaseline": "middle", "titleAlign": "center", "titleAngle": 270}}
 }},
{"data": {"values": [{"f": 0, "p": 0}]}, "mark": {"type": "point", "opacity": 0},
 "encoding": {
  "x": {"field": "f", "type": "quantitative", "scale": {"domain": [0, 1000], "nice": false, "zero": false}, "axis": {"orient": "top", "values": [0,200,400,600,800,1000], "labels": false, "grid": false, "title": null}},
  "y": {"field": "p", "type": "quantitative", "scale": {"domain": [0, 0.035], "nice": false, "zero": false}, "axis": {"orient": "right", "values": [0,0.01,0.02,0.03], "labels": false, "grid": false, "title": null}}
 }}
]
},
{
"width": 464, "height": 233,
"title": {"text": "c", "dx": -119, "offset": -30, "baseline": "alphabetic"},
"layer": [
{"data": {"name": "sc"}, "mark": {"type": "rule", "color": "#0072BD", "strokeWidth": 1.7},
 "encoding": {
  "x": {"field": "t", "type": "quantitative", "scale": {"domain": [0, 1.1], "nice": false, "zero": false},
        "axis": {"orient": "bottom", "values": [0,0.2,0.4,0.6,0.8,1], "labelExpr": "'' + datum.value", "title": "Zeit  \uD835\uDE35 [s]", "titleX": 232, "titleY": 67, "titleBaseline": "middle", "titleAlign": "center"}},
  "y": {"field": "l", "type": "quantitative", "scale": {"domain": [-1, 1], "nice": false, "zero": false},
        "axis": {"orient": "left", "values": [-1,-0.5,0,0.5,1], "labelExpr": "'' + datum.value", "title": "Magnitude  \uD835\uDE39\uD835\uDE27\uD835\uDE2A\uD835\uDE2D\uD835\uDE35(\uD835\uDE35)", "titleX": -77, "titleY": 116, "titleBaseline": "middle", "titleAlign": "center", "titleAngle": 270}},
  "y2": {"field": "u"}
 }},
{"data": {"name": "sc"}, "mark": {"type": "line", "color": "#D95319", "strokeWidth": 1.2},
 "encoding": {
  "x": {"field": "t", "type": "quantitative", "axis": null},
  "y": {"field": "u", "type": "quantitative", "axis": null}
 }},
{"data": {"name": "sc"}, "mark": {"type": "line", "color": "#EDB120", "strokeWidth": 1.2},
 "encoding": {
  "x": {"field": "t", "type": "quantitative", "axis": null},
  "y": {"field": "l", "type": "quantitative", "axis": null}
 }},
{"data": {"name": "lc"}, "mark": {"type": "text", "fontSize": 21, "font": "Liberation Sans", "color": "#000000", "align": "center", "baseline": "alphabetic"},
 "encoding": {
  "x": {"field": "t", "type": "quantitative", "axis": null},
  "y": {"field": "v", "type": "quantitative", "axis": null},
  "text": {"field": "n"}
 }},
{"data": {"values": [{"t": 0, "v": 0}]}, "mark": {"type": "point", "opacity": 0},
 "encoding": {
  "x": {"field": "t", "type": "quantitative", "scale": {"domain": [0, 1.1], "nice": false, "zero": false}, "axis": {"orient": "top", "values": [0,0.2,0.4,0.6,0.8,1], "labels": false, "grid": false, "title": null}},
  "y": {"field": "v", "type": "quantitative", "scale": {"domain": [-1, 1], "nice": false, "zero": false}, "axis": {"orient": "right", "values": [-1,-0.5,0,0.5,1], "labels": false, "grid": false, "title": null}}
 }}
]
},
{
"width": 462, "height": 233,
"title": {"text": "d", "dx": -116, "offset": -16, "baseline": "alphabetic"},
"layer": [
{"data": {"name": "sd"}, "mark": {"type": "line", "color": "#0072BD", "strokeWidth": 3},
 "encoding": {
  "x": {"field": "f", "type": "quantitative", "scale": {"type": "log", "domain": [1, 100], "nice": false},
        "axis": {"orient": "bottom", "values": [1,10,100], "labelExpr": "datum.value == 1 ? '10⁰' : datum.value == 10 ? '10¹' : '10²'", "labelPadding": 33, "title": "Frequenz  \uD835\uDE27 [Hz]", "titleX": 231, "titleY": 72, "titleBaseline": "middle", "titleAlign": "center"}},
  "y": {"field": "p", "type": "quantitative", "scale": {"domain": [0, 0.1607], "nice": false, "zero": false},
        "axis": {"orient": "left", "values": [0,0.05,0.1,0.15], "labelExpr": "'' + datum.value", "title": "|\uD835\uDE17(\uD835\uDE27)|", "titleX": -76, "titleY": 116, "titleBaseline": "middle", "titleAlign": "center", "titleAngle": 270}}
 }},
{"data": {"values": [{"f": 7.8, "a": 0, "b": 0.1517}]}, "mark": {"type": "rule", "color": "#ff0000", "strokeWidth": 2.5},
 "encoding": {
  "x": {"field": "f", "type": "quantitative", "scale": {"type": "log", "domain": [1, 100], "nice": false}, "axis": {"orient": "top", "values": [2,3,4,5,6,7,8,9,20,30,40,50,60,70,80,90], "labels": false, "grid": true, "gridDash": [1.5, 3], "gridColor": "#c8c8c8", "tickSize": -3, "title": null}},
  "y": {"field": "a", "type": "quantitative", "scale": {"domain": [0, 0.1607], "nice": false, "zero": false}, "axis": {"orient": "right", "values": [0,0.05,0.1,0.15], "labels": false, "grid": false, "title": null}},
  "y2": {"field": "b"}
 }},
{"data": {"values": [{"f": 8.7, "p": 0.1264, "s": "f"}]}, "mark": {"type": "text", "fontSize": 25, "fontStyle": "italic", "font": "Liberation Sans", "color": "#000000", "align": "left", "baseline": "alphabetic"},
 "encoding": {
  "x": {"field": "f", "type": "quantitative", "axis": null},
  "y": {"field": "p", "type": "quantitative", "axis": null},
  "text": {"field": "s"}
 }},
{"data": {"values": [{"f": 9.5, "p": 0.1184, "s": "det"}]}, "mark": {"type": "text", "fontSize": 18, "fontStyle": "italic", "font": "Liberation Sans", "color": "#000000", "align": "left", "baseline": "alphabetic"},
 "encoding": {
  "x": {"field": "f", "type": "quantitative", "axis": null},
  "y": {"field": "p", "type": "quantitative", "axis": null},
  "text": {"field": "s"}
 }},
{"data": {"values": [{"f": 13.6, "p": 0.1264, "s": "= 8"}]}, "mark": {"type": "text", "fontSize": 24, "font": "Liberation Sans", "color": "#000000", "align": "left", "baseline": "alphabetic"},
 "encoding": {
  "x": {"field": "f", "type": "quantitative", "axis": null},
  "y": {"field": "p", "type": "quantitative", "axis": null},
  "text": {"field": "s"}
 }},
{"data": {"values": [{"f": 10, "p": 0}]}, "mark": {"type": "point", "opacity": 0},
 "encoding": {
  "x": {"field": "f", "type": "quantitative", "scale": {"type": "log", "domain": [1, 100], "nice": false}, "axis": {"orient": "top", "values": [1,10,100], "labels": false, "grid": false, "title": null}},
  "y": {"field": "p", "type": "quantitative", "axis": null}
 }},
{"data": {"values": [{"f": 10, "p": 0}]}, "mark": {"type": "point", "opacity": 0},
 "encoding": {
  "x": {"field": "f", "type": "quantitative", "scale": {"type": "log", "domain": [1, 100], "nice": false}, "axis": {"orient": "bottom", "values": [2,3,4,5,6,7,8,9,20,30,40,50,60,70,80,90], "labels": false, "grid": false, "tickSize": -3, "title": null}},
  "y": {"field": "p", "type": "quantitative", "axis": null}
 }}
]
}
],
"config": {
 "view": {"stroke": "#262626", "strokeWidth": 1.5},
 "axis": {"labelFont": "Liberation Sans", "labelFontSize": 24, "labelColor": "#262626", "titleFont": "Liberation Sans", "titleFontSize": 30, "titleFontWeight": "normal", "titleColor": "#262626", "gridColor": "#e3e3e3", "gridWidth": 1, "tickColor": "#262626", "tickWidth": 1.5, "tickSize": -6, "domain": false, "labelOverlap": false, "labelFlush": false},
 "axisX": {"labelPadding": 24},
 "axisY": {"labelPadding": 20},
 "title": {"font": "Liberation Serif", "fontSize": 30, "fontWeight": "normal", "color": "#000000", "anchor": "start", "frame": "group"}
}
}
